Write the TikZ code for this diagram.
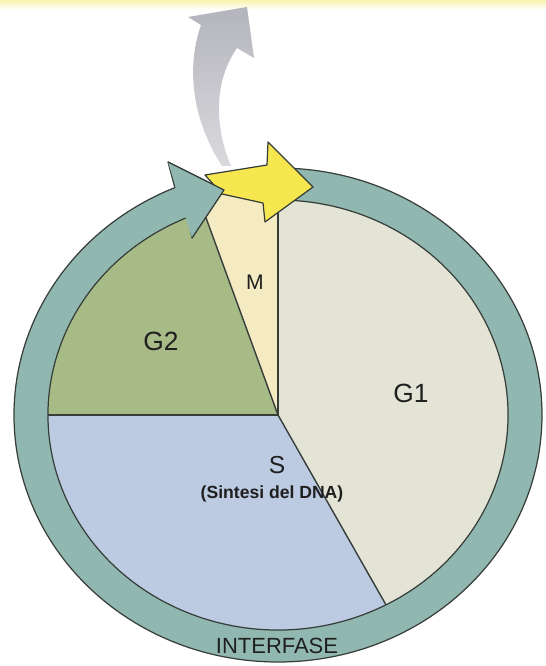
\documentclass[tikz,border=0pt]{standalone}
\usepackage{fontspec}
\setmainfont{Liberation Sans}
\usepackage{xcolor}
\definecolor{anello}{RGB}{145,184,176}
\definecolor{giallo}{RGB}{246,230,79}
\definecolor{grigio}{RGB}{180,180,188}
\definecolor{fgi}{RGB}{227,228,214}
\definecolor{fs}{RGB}{188,203,226}
\definecolor{fgii}{RGB}{167,187,134}
\definecolor{fm}{RGB}{245,235,195}
\definecolor{bordo}{RGB}{55,62,58}
\usetikzlibrary{calc}

\begin{document}
\begin{tikzpicture}[x=0.02cm, y=0.02cm,
  fase/.style={fill, draw=none},
  linea/.style={draw=bordo, line width=0.8pt, line cap=round},
  freccia/.style={draw=bordo, line width=0.7pt, line join=round},
  lab/.style={text=black!88, font=\fontsize{15}{17}\selectfont}
]
  \useasboundingbox (0,0) rectangle (546,666);
  \shade[top color=giallo!45, bottom color=white] (0,656) rectangle (546,666);

  \begin{scope}[shift={(278,251)}]
    % settori del ciclo
    \path[fase, fgi] (0,0) -- ({230*cos(90)},{215*sin(90)}) arc[start angle=90, end angle=-62, x radius=230, y radius=215] -- cycle;
    \path[fase, fs] (0,0) -- ({230*cos(-62)},{215*sin(-62)}) arc[start angle=-62, end angle=-180, x radius=230, y radius=215] -- cycle;
    \path[fase, fgii] (0,0) -- ({230*cos(180)},{215*sin(180)}) arc[start angle=180, end angle=109, x radius=230, y radius=215] -- cycle;
    % M sale fin sotto la freccia gialla
    \path[fase, fm] (0,0) -- ({246*cos(109)},{232*sin(109)}) arc[start angle=109, end angle=90, x radius=246, y radius=232] -- cycle;
    \foreach \a in {90,-62,180}
      \draw[linea] (0,0) -- ({230*cos(\a)},{215*sin(\a)});
    \draw[linea] (0,0) -- ({246*cos(109)},{232*sin(109)});

    % anello interfase
    \path[freccia, fill=anello] ({264*cos(88)},{247*sin(88)})
      arc[start angle=88, end angle=-247, x radius=264, y radius=247]
      -- (-110,253) -- (-54,225) -- (-86,177)
      -- ({230*cos(-247)},{215*sin(-247)})
      arc[start angle=-247, end angle=88, x radius=230, y radius=215] -- cycle;
  \end{scope}

  % freccia grigia (uscita)
  \shade[top color=grigio, bottom color=grigio!50]
    (222,500) .. controls (196,540) and (184,592) .. (201,641)
    -- (188,649) -- (247,659) -- (254,608) -- (237,618)
    .. controls (214,585) and (214,540) .. (231,500) -- cycle;

  % freccia gialla (mitosi)
  \path[freccia, fill=giallo] (205,491) -- (267,501) -- (268,524) -- (313,479)
    -- (265,444) -- (263,463) -- (222,472) -- cycle;

  % punta dell'anello sopra la freccia gialla
  \fill[anello] (168,504) -- (224,476) -- (192,428) -- (180,466) -- cycle;
  \draw[freccia] (168,504) -- (224,476) -- (192,428);

  \node[lab] (g1) at (411,273) {G1};
  \node[lab] (g2) at (161,325) {G2};
  \node[lab, font=\fontsize{12}{14}\selectfont] (m) at (255,384) {M};
  \node[lab, font=\fontsize{14}{16}\selectfont] (s) at (277,201) {S};
  \node[lab, font=\bfseries\fontsize{10}{12}\selectfont] (dna) at (272,172) {(Sintesi del DNA)};
  \node[lab, font=\fontsize{12.5}{14}\selectfont] (inter) at (277,20) {INTERFASE};
\end{tikzpicture}
\end{document}
